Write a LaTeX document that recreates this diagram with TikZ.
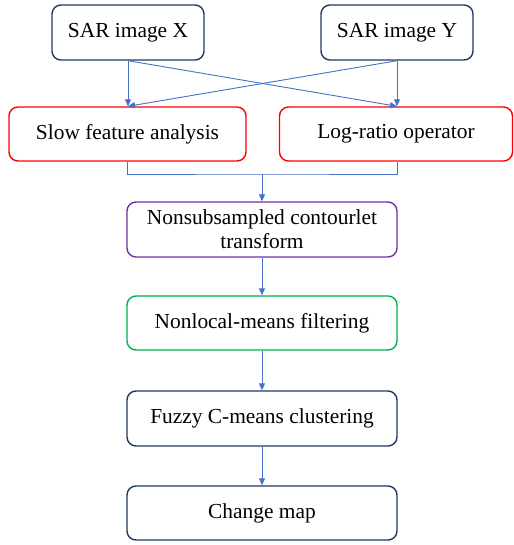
\documentclass[tikz,border=0pt]{standalone}
\usepackage{fontspec}
\setmainfont{Liberation Serif}
\usetikzlibrary{arrows.meta}
\definecolor{navy}{HTML}{1F3864}
\definecolor{boxred}{HTML}{FF0000}
\definecolor{boxpurple}{HTML}{7030A0}
\definecolor{boxgreen}{HTML}{00B050}
\definecolor{linkblue}{HTML}{4472C4}
\tikzset{
  box/.style={draw, line width=1.4pt, rounded corners=9pt, align=center,
    inner sep=0pt, font=\fontsize{21.4}{24}\selectfont},
  link/.style={draw=linkblue, line width=0.9pt},
  flow/.style={link, -{Triangle[length=7pt,width=6pt]}}
}
\begin{document}
\begin{tikzpicture}[x=1pt,y=-1pt]
      \useasboundingbox (0,0) rectangle (513,545);
      \node[box,navy,text=black,minimum width=152pt,minimum height=55pt] (imgx) at (128,32.5) {SAR image X};
      \node[box,navy,text=black,minimum width=152pt,minimum height=55pt] (imgy) at (397,32.5) {SAR image Y};
      \node[box,boxred,text=black,minimum width=237pt,minimum height=54pt] (sfa) at (127.5,134) {Slow feature analysis};
      \node[box,boxred,text=black,minimum width=233pt,minimum height=54pt] (lr) at (396,134) {Log-ratio operator};
      \node[box,boxpurple,text=black,minimum width=270pt,minimum height=55pt] (nsct) at (262,229.5) {Nonsubsampled contourlet\\transform};
      \node[box,boxgreen,text=black,minimum width=270pt,minimum height=54pt] (nlm) at (262,323) {Nonlocal-means filtering};
      \node[box,navy,text=black,minimum width=270pt,minimum height=55pt] (fcm) at (262,418.5) {Fuzzy C-means clustering};
      \node[box,navy,text=black,minimum width=270pt,minimum height=54pt] (cmap) at (262,513) {Change map};
      \coordinate (merge) at (262,174);
      % inputs to both branches
      \draw[flow] (imgx.south) -- (imgx.south |- sfa.north);
      \draw[flow] (imgy.south) -- (imgy.south |- lr.north);
      \draw[flow] (imgx.south) -- (imgy.south |- lr.north);
      \draw[flow] (imgy.south) -- (imgx.south |- sfa.north);
      % fuse and go down
      \draw[link] (sfa.south) |- (merge) -| (imgy.south |- lr.south);
      \draw[flow] (merge) -- (nsct.north);
      \draw[flow] (nsct) -- (nlm);
      \draw[flow] (nlm) -- (fcm);
      \draw[flow] (fcm) -- (cmap);
\end{tikzpicture}
\end{document}
